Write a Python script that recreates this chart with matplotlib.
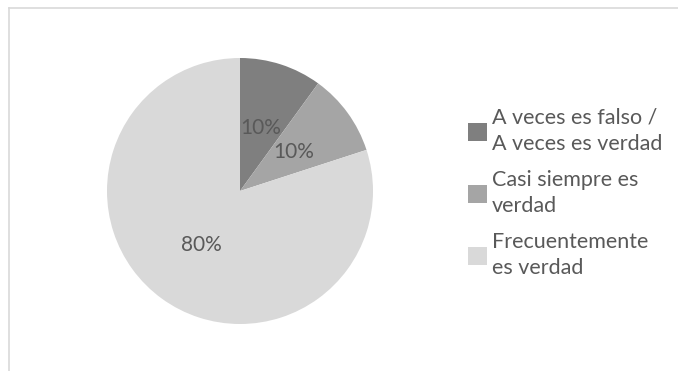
import matplotlib
matplotlib.use('Agg')
import matplotlib.pyplot as plt
from matplotlib.lines import Line2D

labels = ['A veces es falso /\nA veces es verdad', 'Casi siempre es\nverdad', 'Frecuentemente\nes verdad']
values = [10, 10, 80]
colors = ['#7f7f7f', '#a5a5a5', '#d9d9d9']

plt.rcParams['font.family'] = ['Lato', 'DejaVu Sans']
text_color = '#595959'

W, H = 678, 371
fig = plt.figure(figsize=(W / 100, H / 100), dpi=100)

# pie: centre (240, 191) px, radius 133 px
cx, cy, r = 240, 191, 133
ax = fig.add_axes([(cx - r) / W, (H - cy - r) / H, 2 * r / W, 2 * r / H])
wedges, _, autotexts = ax.pie(values, colors=colors, startangle=90, counterclock=False,
                              autopct='%1.0f%%', pctdistance=0.5,
                              wedgeprops=dict(linewidth=0))
for t in autotexts:
    t.set_color(text_color)
    t.set_fontsize(15)
ax.set_xlim(-1, 1)
ax.set_ylim(-1, 1)
ax.set_aspect('auto')

leg = fig.legend(wedges, labels, loc='upper left', bbox_to_anchor=(468 / W, 1 - 108 / H),
                 frameon=False, fontsize=15.5, handlelength=0.9, handleheight=0.9,
                 handletextpad=0.22, labelspacing=0.72, labelcolor=text_color,
                 borderpad=0, borderaxespad=0)
for t in leg.get_texts():
    t.set_linespacing(1.4)

# chart area border (top and left edges)
fig.add_artist(Line2D([9 / W, 1], [1 - 8 / H, 1 - 8 / H], color='#d9d9d9', lw=1.2))
fig.add_artist(Line2D([9 / W, 9 / W], [0, 1 - 8 / H], color='#d9d9d9', lw=1.2))

fig.savefig('out.png', dpi=100)
